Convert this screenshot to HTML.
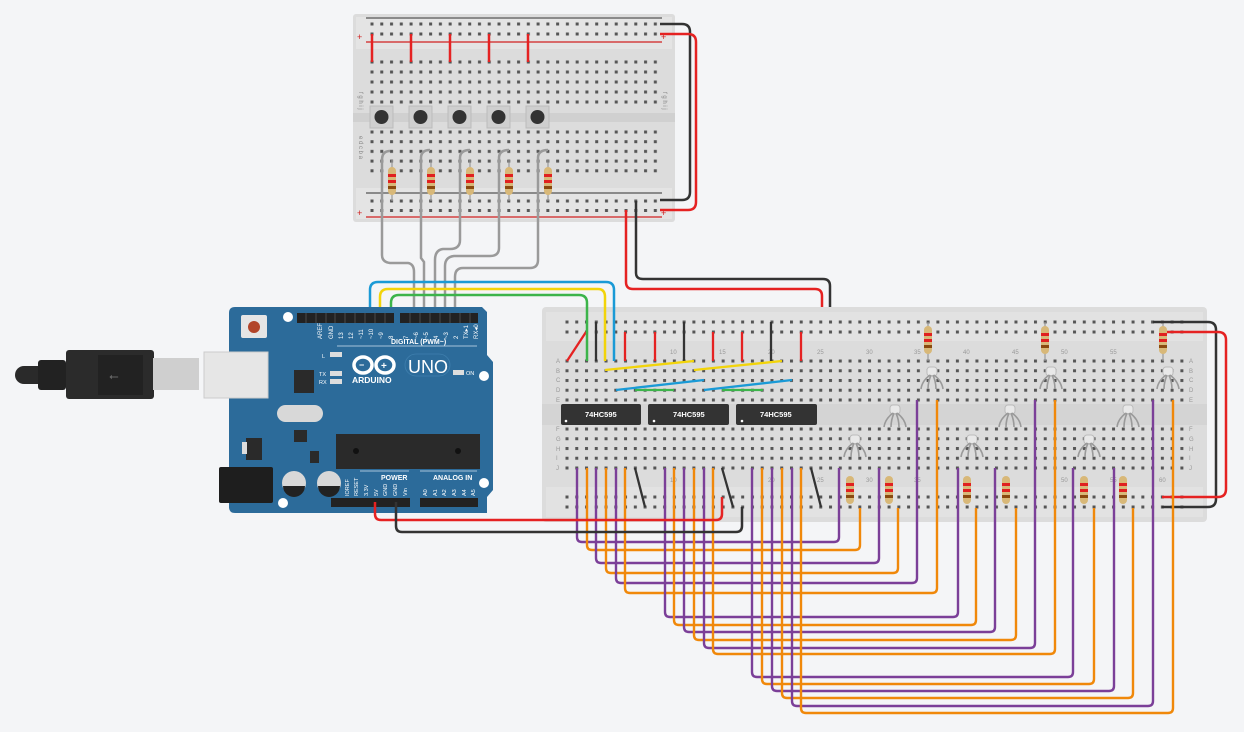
<!DOCTYPE html>
<html><head><meta charset="utf-8"><style>
html,body{margin:0;padding:0;background:#f4f5f7;}
svg{display:block;font-family:"Liberation Sans",sans-serif;}
</style></head><body>
<svg width="1244" height="732" viewBox="0 0 1244 732" xmlns="http://www.w3.org/2000/svg">
<defs>
<pattern id="hb" x="562.1" y="356.1" width="9.76" height="9.75" patternUnits="userSpaceOnUse"><rect x="3.4" y="3.4" width="3" height="3" fill="#555"/></pattern>
<pattern id="hb2" x="562.1" y="424.1" width="9.76" height="9.75" patternUnits="userSpaceOnUse"><rect x="3.4" y="3.4" width="3" height="3" fill="#555"/></pattern>
<pattern id="hr" x="562.1" y="317" width="9.76" height="10" patternUnits="userSpaceOnUse"><rect x="3.4" y="3.5" width="3" height="3" fill="#555"/></pattern>
<pattern id="hr2" x="562.1" y="492" width="9.76" height="10" patternUnits="userSpaceOnUse"><rect x="3.4" y="3.5" width="3" height="3" fill="#555"/></pattern>
<pattern id="th" x="367" y="57" width="9.77" height="10" patternUnits="userSpaceOnUse"><rect x="3.5" y="3.5" width="3" height="3" fill="#555"/></pattern>
<pattern id="th2" x="367" y="127" width="9.77" height="9.7" patternUnits="userSpaceOnUse"><rect x="3.5" y="3.5" width="3" height="3" fill="#555"/></pattern>
<pattern id="tr" x="367" y="19" width="9.77" height="10" patternUnits="userSpaceOnUse"><rect x="3.5" y="3.5" width="3" height="3" fill="#555"/></pattern>
<pattern id="tr2" x="367" y="196" width="9.77" height="9.5" patternUnits="userSpaceOnUse"><rect x="3.5" y="3.5" width="3" height="3" fill="#555"/></pattern>
<g id="res"><rect x="-4" y="0" width="8" height="28" rx="4" fill="#d8b878"/><rect x="-4" y="7" width="8" height="3" fill="#e02020"/><rect x="-4" y="13" width="8" height="3" fill="#e02020"/><rect x="-4" y="19" width="8" height="3" fill="#8a4a10"/></g>
<g id="led" fill="none" stroke="#9a9a9a" stroke-width="1.6"><rect x="-5" y="0" width="10" height="9" rx="3" fill="#e8e8e8" stroke="#bbb" stroke-width="1"/><path d="M-2,8 Q-10,14 -11,22 M-1,8 Q-4,15 -4,22 M1,8 Q4,15 4,22 M2,8 Q10,14 11,22"/></g>
</defs>

<!-- TOP BREADBOARD -->
<rect x="353" y="14" width="322" height="208" rx="3" fill="#dcdcdc"/>
<rect x="356" y="17" width="316" height="32" fill="#e4e4e4"/>
<rect x="356" y="188" width="316" height="31" fill="#e4e4e4"/>
<rect x="353" y="113" width="322" height="9" fill="#d0d0d0"/>
<line x1="366" y1="18" x2="662" y2="18" stroke="#555" stroke-width="1.2"/>
<line x1="366" y1="42" x2="662" y2="42" stroke="#d02020" stroke-width="1.2"/>
<line x1="366" y1="193" x2="662" y2="193" stroke="#555" stroke-width="1.2"/>
<line x1="366" y1="217" x2="662" y2="217" stroke="#d02020" stroke-width="1.2"/>
<rect x="367" y="19" width="293" height="20" fill="url(#tr)"/>
<rect x="367" y="57" width="293" height="50" fill="url(#th)"/>
<rect x="367" y="127" width="293" height="48.5" fill="url(#th2)"/>
<rect x="367" y="196" width="293" height="19" fill="url(#tr2)"/>
<g font-size="9" fill="#d02020"><text x="357" y="40">+</text><text x="661" y="40">+</text><text x="357" y="216">+</text><text x="661" y="216">+</text></g>
<g font-size="6" fill="#888">
<text x="359" y="92" transform="rotate(90 359 92)">f g h i j</text>
<text x="663" y="92" transform="rotate(90 663 92)">f g h i j</text>
<text x="359" y="136" transform="rotate(90 359 136)">e d c b a</text>
</g>
<g>
<rect x="370" y="106" width="23" height="22" fill="#cfcfcf" stroke="#bbb"/><circle cx="381.5" cy="117" r="7" fill="#333"/>
<rect x="409" y="106" width="23" height="22" fill="#cfcfcf" stroke="#bbb"/><circle cx="420.5" cy="117" r="7" fill="#333"/>
<rect x="448" y="106" width="23" height="22" fill="#cfcfcf" stroke="#bbb"/><circle cx="459.5" cy="117" r="7" fill="#333"/>
<rect x="487" y="106" width="23" height="22" fill="#cfcfcf" stroke="#bbb"/><circle cx="498.5" cy="117" r="7" fill="#333"/>
<rect x="526" y="106" width="23" height="22" fill="#cfcfcf" stroke="#bbb"/><circle cx="537.5" cy="117" r="7" fill="#333"/>
</g>
<g stroke="#e52222" stroke-width="2.5">
<line x1="372" y1="34" x2="372" y2="62"/><line x1="411" y1="34" x2="411" y2="62"/><line x1="450" y1="34" x2="450" y2="62"/><line x1="489" y1="34" x2="489" y2="62"/><line x1="528" y1="34" x2="528" y2="62"/>
</g>
<g stroke="#999" stroke-width="1.2"><line x1="392" y1="160" x2="392" y2="201"/><line x1="431" y1="160" x2="431" y2="201"/><line x1="470" y1="160" x2="470" y2="201"/><line x1="509" y1="160" x2="509" y2="201"/><line x1="548" y1="160" x2="548" y2="201"/></g>
<use href="#res" x="392" y="167"/><use href="#res" x="431" y="167"/><use href="#res" x="470" y="167"/><use href="#res" x="509" y="167"/><use href="#res" x="548" y="167"/>
<g fill="none" stroke="#9a9a9a" stroke-width="2.5">
<path d="M390,151 Q382,151 382,160 L382,255 Q382,262 390,263 L408,263 Q414,264 414,272 L414,318"/>
<path d="M430,150 Q421,150 421,158 L421,258 L424,262 L424,318"/>
<path d="M470,150 Q460,150 460,158 L460,240 Q460,249 450,249 L443,249 Q435,250 435,260 L435,318"/>
<path d="M509,150 Q499,150 499,158 L499,248 Q499,256 490,256 L454,256 Q445,257 445,266 L445,318"/>
<path d="M548,150 Q538,150 538,158 L538,260 Q538,268 530,268 L463,268 Q455,268 455,277 L455,318"/>
</g>
<g fill="none" stroke-width="2.5">
<path d="M660,24 L682,24 Q690,24 690,32 L690,192 Q690,200 682,200 L660,200" stroke="#333"/>
<path d="M660,34 L688,34 Q696,34 696,42 L696,202 Q696,210 688,210 L660,210" stroke="#e52222"/>
<path d="M626,210 L626,282 Q626,289 633,289 L815,289 Q822,289 822,296 L822,332" stroke="#e52222"/>
<path d="M636,201 L636,273 Q636,279 643,279 L823,279 Q830,279 830,286 L830,322" stroke="#333"/>
</g>

<!-- BIG BREADBOARD -->
<rect x="542" y="307" width="665" height="215" rx="4" fill="#dcdcdc"/>
<rect x="546" y="312" width="657" height="29" fill="#e2e2e2"/>
<rect x="546" y="487" width="657" height="30" fill="#e2e2e2"/>
<rect x="542" y="404" width="665" height="21" fill="#d4d4d4"/>
<rect x="562" y="317" width="625" height="20" fill="url(#hr)"/>
<rect x="562" y="356" width="625" height="48.75" fill="url(#hb)"/>
<rect x="562" y="424" width="625" height="48.75" fill="url(#hb2)"/>
<rect x="562" y="492" width="625" height="20" fill="url(#hr2)"/>
<g font-size="6" fill="#999">
<text x="556" y="363">A</text><text x="556" y="373">B</text><text x="556" y="382">C</text><text x="556" y="392">D</text><text x="556" y="402">E</text>
<text x="556" y="431">F</text><text x="556" y="441">G</text><text x="556" y="451">H</text><text x="556" y="460">I</text><text x="556" y="470">J</text>
<text x="1189" y="363">A</text><text x="1189" y="373">B</text><text x="1189" y="382">C</text><text x="1189" y="392">D</text><text x="1189" y="402">E</text>
<text x="1189" y="431">F</text><text x="1189" y="441">G</text><text x="1189" y="451">H</text><text x="1189" y="460">I</text><text x="1189" y="470">J</text>
<text x="670" y="354">10</text><text x="719" y="354">15</text><text x="768" y="354">20</text><text x="817" y="354">25</text><text x="866" y="354">30</text><text x="914" y="354">35</text><text x="963" y="354">40</text><text x="1012" y="354">45</text><text x="1061" y="354">50</text><text x="1110" y="354">55</text>
<text x="670" y="482">10</text><text x="768" y="482">20</text><text x="817" y="482">25</text><text x="866" y="482">30</text><text x="914" y="482">35</text><text x="1061" y="482">50</text><text x="1110" y="482">55</text><text x="1159" y="482">60</text>
</g>
<g>
<rect x="561" y="404" width="80" height="21" rx="2" fill="#333"/>
<rect x="648" y="404" width="81" height="21" rx="2" fill="#333"/>
<rect x="736" y="404" width="81" height="21" rx="2" fill="#333"/>
<g font-size="7.5" fill="#fff" font-weight="bold"><text x="585" y="417">74HC595</text><text x="673" y="417">74HC595</text><text x="760" y="417">74HC595</text></g>
<circle cx="566" cy="421" r="1.3" fill="#fff"/><circle cx="654" cy="421" r="1.3" fill="#fff"/><circle cx="742" cy="421" r="1.3" fill="#fff"/>
</g>
<g stroke-width="2.3" fill="none">
<line x1="567" y1="361" x2="586" y2="332" stroke="#e52222"/>
<line x1="596" y1="322" x2="596" y2="361" stroke="#333"/>
<line x1="625" y1="332" x2="625" y2="361" stroke="#e52222"/>
<line x1="655" y1="332" x2="655" y2="361" stroke="#e52222"/>
<line x1="684" y1="322" x2="684" y2="361" stroke="#333"/>
<line x1="713" y1="332" x2="713" y2="361" stroke="#e52222"/>
<line x1="742" y1="332" x2="742" y2="361" stroke="#e52222"/>
<line x1="771" y1="322" x2="771" y2="361" stroke="#333"/>
<line x1="801" y1="332" x2="801" y2="361" stroke="#e52222"/>
<line x1="605" y1="370" x2="694" y2="361" stroke="#f2d40a"/>
<line x1="694" y1="370" x2="782" y2="361" stroke="#f2d40a"/>
<line x1="616" y1="390" x2="704" y2="380" stroke="#1a9ad6"/>
<line x1="704" y1="390" x2="792" y2="380" stroke="#1a9ad6"/>
<line x1="635" y1="390" x2="674" y2="390" stroke="#3cb44a"/>
<line x1="722" y1="390" x2="763" y2="390" stroke="#3cb44a"/>
<line x1="635" y1="468" x2="645" y2="507" stroke="#333"/>
<line x1="722" y1="468" x2="733" y2="507" stroke="#333"/>
<line x1="811" y1="468" x2="821" y2="507" stroke="#333"/>
</g>
<g fill="none" stroke-width="2.5">
<path d="M370,318 L370,290 Q370,282 378,282 L606,282 Q614,282 614,290 L614,361" stroke="#1a9ad6"/>
<path d="M380,318 L380,297 Q380,289 388,289 L598,289 Q605,289 605,297 L605,361" stroke="#f2d40a"/>
<path d="M391,318 L391,303 Q391,295 399,295 L579,295 Q587,295 587,303 L587,361" stroke="#3cb44a"/>
</g>
<g stroke="#999" stroke-width="1.2"><line x1="928" y1="322" x2="928" y2="361"/><line x1="1045" y1="322" x2="1045" y2="361"/><line x1="1163" y1="322" x2="1163" y2="361"/></g>
<use href="#res" x="928" y="326"/><use href="#res" x="1045" y="326"/><use href="#res" x="1163" y="326"/>
<use href="#res" x="850" y="476"/><use href="#res" x="889" y="476"/><use href="#res" x="967" y="476"/><use href="#res" x="1006" y="476"/><use href="#res" x="1084" y="476"/><use href="#res" x="1123" y="476"/>
<use href="#led" x="932" y="367"/><use href="#led" x="1051" y="367"/><use href="#led" x="1168" y="367"/>
<use href="#led" x="895" y="405"/><use href="#led" x="1010" y="405"/><use href="#led" x="1128" y="405"/>
<use href="#led" x="855" y="435"/><use href="#led" x="972" y="435"/><use href="#led" x="1089" y="435"/>
<g fill="none" stroke-width="2.5">
<path d="M1153,322 L1208,322 Q1216,322 1216,330 L1216,499 Q1216,507 1208,507 L1162,507" stroke="#333"/>
<path d="M1167,332 L1218,332 Q1226,332 1226,340 L1226,489 Q1226,497 1218,497 L1162,497" stroke="#e52222"/>
</g>

<g fill="none" stroke-width="2.4">
<path d="M577,468 L577,537 Q577,542 582,542 L834,542 Q839,542 839,537 L839,468" stroke="#7b3f98"/>
<path d="M587,468 L587,545 Q587,550 592,550 L855,550 Q860,550 860,545 L860,508" stroke="#f0880a"/>
<path d="M596,468 L596,558 Q596,563 601,563 L874,563 Q879,563 879,558 L879,468" stroke="#7b3f98"/>
<path d="M606,468 L606,568 Q606,573 611,573 L893,573 Q898,573 898,568 L898,508" stroke="#f0880a"/>
<path d="M616,468 L616,578 Q616,583 621,583 L912,583 Q917,583 917,578 L917,400" stroke="#7b3f98"/>
<path d="M625,468 L625,588 Q625,593 630,593 L932,593 Q937,593 937,588 L937,400" stroke="#f0880a"/>
<path d="M665,468 L665,612 Q665,617 670,617 L953,617 Q958,617 958,612 L958,468" stroke="#7b3f98"/>
<path d="M674,468 L674,620 Q674,625 679,625 L971,625 Q976,625 976,620 L976,508" stroke="#f0880a"/>
<path d="M684,468 L684,627 Q684,632 689,632 L990,632 Q995,632 995,627 L995,468" stroke="#7b3f98"/>
<path d="M694,468 L694,635 Q694,640 699,640 L1011,640 Q1016,640 1016,635 L1016,508" stroke="#f0880a"/>
<path d="M704,468 L704,643 Q704,648 709,648 L1030,648 Q1035,648 1035,643 L1035,400" stroke="#7b3f98"/>
<path d="M713,468 L713,649 Q713,654 718,654 L1050,654 Q1055,654 1055,649 L1055,400" stroke="#f0880a"/>
<path d="M752,468 L752,672 Q752,677 757,677 L1068,677 Q1073,677 1073,672 L1073,468" stroke="#7b3f98"/>
<path d="M762,468 L762,679 Q762,684 767,684 L1089,684 Q1094,684 1094,679 L1094,508" stroke="#f0880a"/>
<path d="M772,468 L772,686 Q772,691 777,691 L1109,691 Q1114,691 1114,686 L1114,468" stroke="#7b3f98"/>
<path d="M782,468 L782,693 Q782,698 787,698 L1128,698 Q1133,698 1133,693 L1133,508" stroke="#f0880a"/>
<path d="M792,468 L792,701 Q792,706 797,706 L1148,706 Q1153,706 1153,701 L1153,400" stroke="#7b3f98"/>
<path d="M801,468 L801,708 Q801,713 806,713 L1168,713 Q1173,713 1173,708 L1173,400" stroke="#f0880a"/>
</g>

<!-- ARDUINO -->
<path d="M229,313 Q229,307 235,307 L482,307 L487,312 L487,355 L493,362 L493,490 L487,497 L487,513 L235,513 Q229,513 229,507 Z" fill="#2c6b9a"/>
<rect x="241" y="315" width="26" height="23" rx="2" fill="#e5e5e5"/><circle cx="254" cy="327" r="6" fill="#b2452a"/>
<rect x="297" y="313" width="97" height="10" fill="#222"/>
<rect x="400" y="313" width="78" height="10" fill="#222"/>
<g stroke="#555" stroke-width="0.8"><path d="M306,313v10M316,313v10M326,313v10M335,313v10M345,313v10M355,313v10M365,313v10M375,313v10M385,313v10M410,313v10M420,313v10M430,313v10M440,313v10M450,313v10M460,313v10M470,313v10"/></g>
<g font-size="6" fill="#fff">
<text x="322" y="339" transform="rotate(-90 322 339)">AREF</text>
<text x="333" y="339" transform="rotate(-90 333 339)">GND</text>
<text x="343" y="339" transform="rotate(-90 343 339)">13</text><text x="353" y="339" transform="rotate(-90 353 339)">12</text>
<text x="363" y="339" transform="rotate(-90 363 339)">~11</text><text x="373" y="339" transform="rotate(-90 373 339)">~10</text>
<text x="383" y="339" transform="rotate(-90 383 339)">~9</text><text x="393" y="339" transform="rotate(-90 393 339)">8</text>
<text x="408" y="339" transform="rotate(-90 408 339)">7</text><text x="418" y="339" transform="rotate(-90 418 339)">~6</text>
<text x="428" y="339" transform="rotate(-90 428 339)">~5</text><text x="438" y="339" transform="rotate(-90 438 339)">4</text>
<text x="448" y="339" transform="rotate(-90 448 339)">~3</text><text x="458" y="339" transform="rotate(-90 458 339)">2</text>
<text x="468" y="339" transform="rotate(-90 468 339)">TX▸1</text><text x="478" y="339" transform="rotate(-90 478 339)">RX◂0</text>
</g>
<text x="391" y="344" font-size="7" fill="#fff" font-weight="bold">DIGITAL (PWM~)</text>
<line x1="337" y1="346" x2="477" y2="346" stroke="#cfe0ee" stroke-width="0.8"/>
<g font-size="5.5" fill="#fff"><text x="322" y="358">L</text><text x="319" y="376">TX</text><text x="319" y="384">RX</text><text x="466" y="375">ON</text></g>
<rect x="330" y="352" width="12" height="5" fill="#ddd"/><rect x="330" y="371" width="12" height="5" fill="#ddd"/><rect x="330" y="379" width="12" height="5" fill="#ddd"/><rect x="453" y="370" width="11" height="5" fill="#ddd"/>
<g fill="none" stroke="#fff" stroke-width="3.5"><ellipse cx="363" cy="365" rx="9" ry="8"/><ellipse cx="385" cy="365" rx="9" ry="8"/></g>
<text x="359" y="368" font-size="9" fill="#fff" font-weight="bold">−</text><text x="381" y="369" font-size="10" fill="#fff" font-weight="bold">+</text>
<text x="352" y="383" font-size="8.5" fill="#fff" font-weight="bold">ARDUINO</text>
<rect x="405" y="354" width="45" height="22" rx="11" fill="none" stroke="#3f7fae" stroke-width="0.8"/>
<text x="408" y="373" font-size="18" fill="#fff">UNO</text>
<rect x="294" y="370" width="20" height="23" fill="#2a2a2a"/>
<rect x="277" y="405" width="46" height="17" rx="8.5" fill="#d8d8d8"/>
<rect x="294" y="430" width="13" height="12" fill="#2a2a2a"/>
<rect x="246" y="438" width="16" height="22" fill="#2a2a2a"/><rect x="242" y="442" width="5" height="12" fill="#ddd"/>
<rect x="310" y="451" width="9" height="12" fill="#2a2a2a"/>
<rect x="336" y="434" width="144" height="35" fill="#2a2a2a"/>
<circle cx="356" cy="451" r="3" fill="#111"/><circle cx="458" cy="451" r="3" fill="#111"/>
<rect x="219" y="467" width="54" height="36" rx="2" fill="#1e1e1e"/>
<circle cx="294" cy="483" r="12" fill="#d8d8d8"/><path d="M283,486 A11,11 0 0 0 305,486 Z" fill="#222"/>
<circle cx="329" cy="483" r="12" fill="#d8d8d8"/><path d="M318,486 A11,11 0 0 0 340,486 Z" fill="#222"/>
<line x1="360" y1="471" x2="409" y2="471" stroke="#cfe0ee" stroke-width="0.8"/><line x1="420" y1="471" x2="477" y2="471" stroke="#cfe0ee" stroke-width="0.8"/>
<g font-size="7" fill="#fff" font-weight="bold"><text x="381" y="480">POWER</text><text x="433" y="480">ANALOG IN</text></g>
<g font-size="5.5" fill="#fff">
<text x="349" y="496" transform="rotate(-90 349 496)">IOREF</text><text x="358" y="496" transform="rotate(-90 358 496)">RESET</text>
<text x="368" y="496" transform="rotate(-90 368 496)">3.3V</text><text x="378" y="496" transform="rotate(-90 378 496)">5V</text>
<text x="387" y="496" transform="rotate(-90 387 496)">GND</text><text x="397" y="496" transform="rotate(-90 397 496)">GND</text>
<text x="407" y="496" transform="rotate(-90 407 496)">Vin</text>
<text x="427" y="496" transform="rotate(-90 427 496)">A0</text><text x="437" y="496" transform="rotate(-90 437 496)">A1</text>
<text x="446" y="496" transform="rotate(-90 446 496)">A2</text><text x="456" y="496" transform="rotate(-90 456 496)">A3</text>
<text x="466" y="496" transform="rotate(-90 466 496)">A4</text><text x="475" y="496" transform="rotate(-90 475 496)">A5</text>
</g>
<rect x="331" y="498" width="79" height="9" fill="#222"/><rect x="420" y="498" width="58" height="9" fill="#222"/>
<g fill="#fff"><circle cx="288" cy="317" r="5"/><circle cx="484" cy="376" r="5"/><circle cx="484" cy="483" r="5"/><circle cx="283" cy="503" r="5"/></g>

<!-- USB CABLE (on top of board) -->
<rect x="15" y="366" width="50" height="18" rx="9" fill="#2a2a2a"/>
<rect x="38" y="360" width="28" height="30" rx="3" fill="#222"/>
<rect x="66" y="350" width="88" height="49" rx="3" fill="#2b2b2b"/>
<rect x="98" y="355" width="45" height="40" fill="#222"/>
<text x="109" y="380" font-size="12" fill="#666">⭠</text>
<rect x="153" y="358" width="46" height="32" fill="#cfcfcf"/>
<rect x="204" y="352" width="64" height="46" fill="#e6e6e6" stroke="#ccc"/>

<g fill="none" stroke-width="2.5">
<path d="M375,502 L375,514 Q375,520 381,520 L716,520 Q722,520 722,514 L722,497" stroke="#e52222"/>
<path d="M396,502 L396,526 Q396,532 402,532 L736,532 Q742,532 742,526 L742,507" stroke="#333"/>
</g>
</svg>
</body></html>
